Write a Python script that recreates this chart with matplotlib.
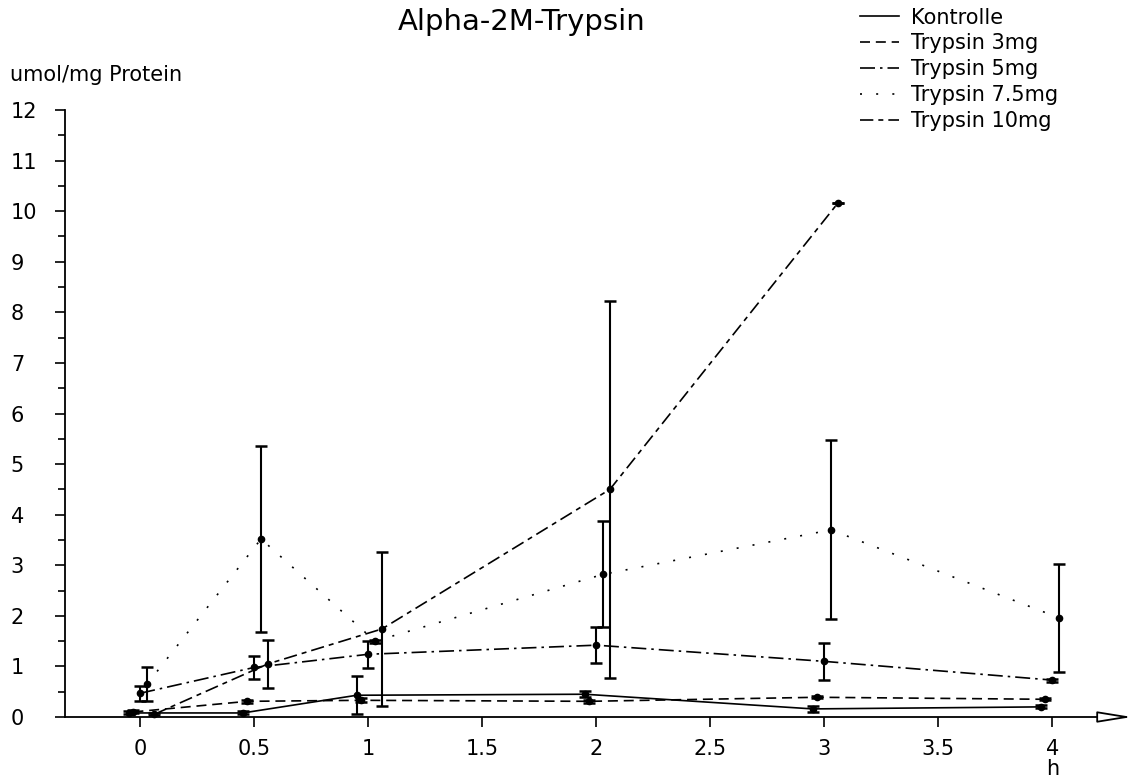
import matplotlib
matplotlib.use("Agg")
import matplotlib.pyplot as plt
from matplotlib.lines import Line2D
import numpy as np

# Measurement times (h)
times = [0, 0.5, 1, 2, 3, 4]
times_10mg = [0, 0.5, 1, 2, 3]

# Mean values (umol/mg Protein) and standard deviations
kontrolle = [0.08, 0.08, 0.43, 0.45, 0.16, 0.20]
kontrolle_sd = [0.03, 0.03, 0.38, 0.06, 0.06, 0.03]

trypsin_3mg = [0.10, 0.31, 0.33, 0.31, 0.39, 0.35]
trypsin_3mg_sd = [0.03, 0.03, 0.04, 0.03, 0.02, 0.02]

trypsin_5mg = [0.47, 0.98, 1.24, 1.42, 1.10, 0.73]
trypsin_5mg_sd = [0.15, 0.22, 0.27, 0.35, 0.37, 0.03]

trypsin_7_5mg = [0.65, 3.52, 1.50, 2.82, 3.70, 1.96]
trypsin_7_5mg_sd = [0.33, 1.83, 0.03, 1.05, 1.77, 1.07]

trypsin_10mg = [0.05, 1.05, 1.74, 4.50, 10.16]
trypsin_10mg_sd = [0.02, 0.47, 1.52, 3.73, 0.0]

labels = ["Kontrolle", "Trypsin 3mg", "Trypsin 5mg", "Trypsin 7.5mg", "Trypsin 10mg"]
xticks = [0, 0.5, 1, 1.5, 2, 2.5, 3, 3.5, 4]
xticklabels = ["0", "0.5", "1", "1.5", "2", "2.5", "3", "3.5", "4"]
yticks = list(range(0, 13))

plt.rcParams["font.family"] = ["DejaVu Sans"]

fig = plt.figure(figsize=(11.35, 7.78), dpi=100)
ax = fig.add_axes([65 / 1135, 61 / 778, 1067 / 1135, 607 / 778])
ax.set_xlim(-0.33, 4.35)
ax.set_ylim(0, 12)

styles = [
    dict(ls="-"),
    dict(ls=(0, (6, 3.5))),
    dict(ls=(0, (9, 3, 1.5, 3))),
    dict(ls=(0, (1.2, 8.5))),
    dict(ls=(0, (8, 3, 3, 3))),
]
dodge = [-0.05, -0.03, 0.0, 0.03, 0.06]
series = [
    (times, kontrolle, kontrolle_sd),
    (times, trypsin_3mg, trypsin_3mg_sd),
    (times, trypsin_5mg, trypsin_5mg_sd),
    (times, trypsin_7_5mg, trypsin_7_5mg_sd),
    (times_10mg, trypsin_10mg, trypsin_10mg_sd),
]

for (t, y, sd), st, dx in zip(series, styles, dodge):
    x = np.asarray(t) + dx
    ax.plot(x, y, color="black", lw=1.2, clip_on=False, **st)
    ax.errorbar(x, y, yerr=sd, fmt="o", color="black", ms=4.5,
                elinewidth=1.5, capsize=4.3, capthick=1.8, clip_on=False)

# Axes styling
for side in ("top", "right", "bottom"):
    ax.spines[side].set_visible(False)
ax.spines["left"].set_linewidth(1.3)
ax.set_yticks(yticks)
ax.set_yticklabels([str(v) for v in yticks])
ax.set_yticks(np.arange(0.5, 12, 1.0), minor=True)
ax.tick_params(axis="y", which="major", direction="out", length=7, width=1.2,
               labelsize=15, pad=32)
ax.tick_params(axis="y", which="minor", direction="out", length=5, width=1.2)
for lbl in ax.get_yticklabels():
    lbl.set_horizontalalignment("left")
ax.set_xticks(xticks)
ax.set_xticklabels(xticklabels)
ax.tick_params(axis="x", which="major", direction="out", length=7, width=1.2,
               labelsize=15, pad=9)

# x axis drawn as an arrow
ax.annotate("", xy=(1.0, 0), xytext=(0, 0), xycoords="axes fraction",
            textcoords="axes fraction",
            arrowprops=dict(arrowstyle="-|>,head_length=1.05,head_width=0.17",
                            fc="white", ec="black", lw=1.3,
                            shrinkA=0, shrinkB=0, mutation_scale=20))

fig.text(522 / 1135, 1 - 22 / 778, "Alpha-2M-Trypsin", ha="center", va="center",
         fontsize=21)
fig.text(10 / 1135, 1 - 75 / 778, "umol/mg Protein", ha="left", va="center",
         fontsize=15)
fig.text(1053 / 1135, 1 - 769 / 778, "h", ha="center", va="center", fontsize=15)

handles = [Line2D([], [], color="black", lw=1.2, **st) for st in styles]
leg = fig.legend(handles, labels, loc="upper left",
                 bbox_to_anchor=(845 / 1135, 1 + 7 / 778), frameon=False,
                 fontsize=15, handlelength=1.9, handletextpad=0.55,
                 labelspacing=0.28, borderpad=0.2)

fig.savefig("out.png", dpi=100, facecolor="white")
